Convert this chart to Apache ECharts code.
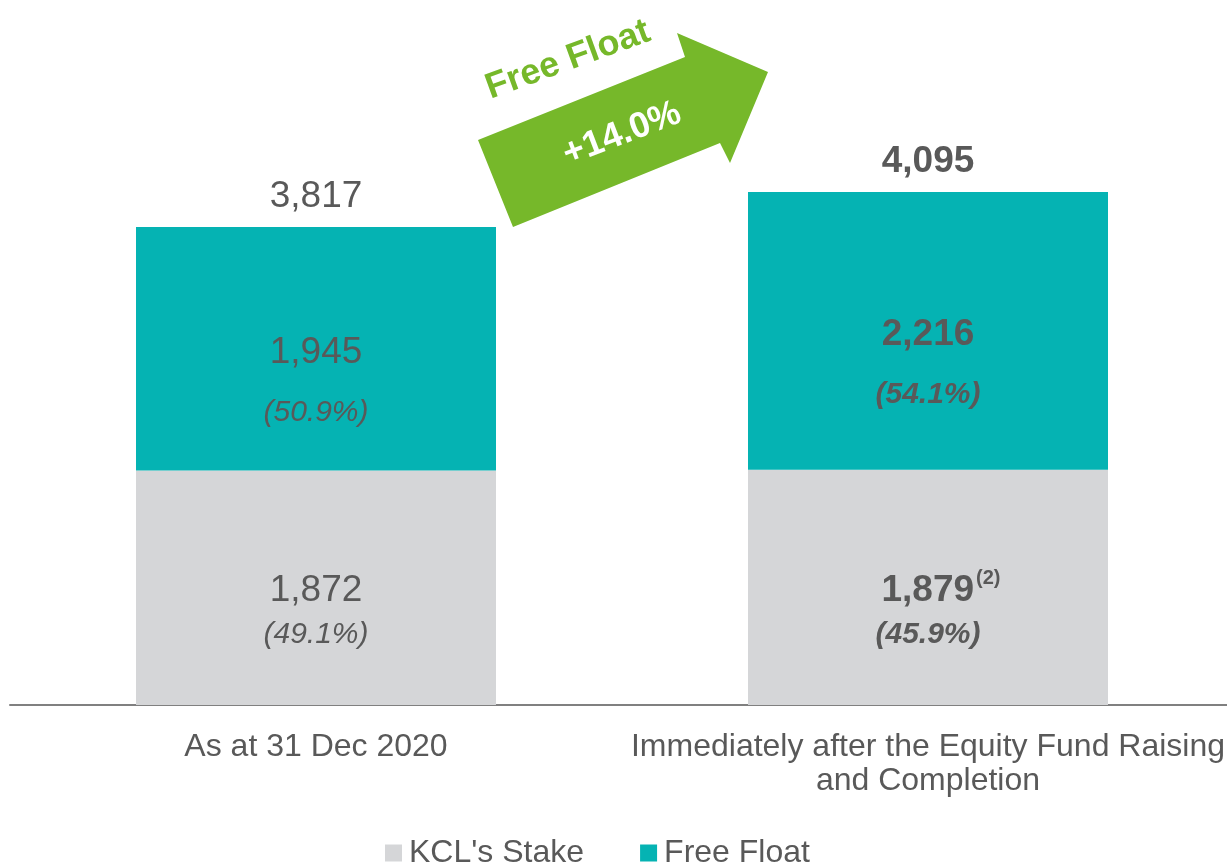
<!DOCTYPE html>
<html>
<head>
<meta charset="utf-8">
<script src="https://cdn.jsdelivr.net/npm/echarts@6/dist/echarts.min.js"></script>
<style>
  html, body { margin: 0; padding: 0; background: #ffffff; }
  #chart { width: 1227px; height: 866px; }
</style>
</head>
<body>
<div id="chart"></div>
<script>
// Share structure before and after the equity fund raising (millions of shares)
const categories = ['As at 31 Dec 2020', 'Immediately after the Equity Fund Raising\nand Completion'];
const kclStake = [1872, 1879];
const freeFloat = [1945, 2216];
const kclShare = ['49.1%', '45.9%'];
const freeShare = ['50.9%', '54.1%'];
const kclNotes = ['', '(2)'];
const totals = kclStake.map((v, i) => v + freeFloat[i]);
const arrowTitle = 'Free Float';
const arrowValue = '+14.0%';

const FONT = "'Liberation Sans', Arial, sans-serif";
const TEXT = '#595959';
const GREY = '#D5D6D8';
const TEAL = '#05B3B3';
const GREEN = '#76B82A';

const fmt = v => v.toLocaleString('en-US');

const richStyles = {
  v:  { fontSize: 37, color: TEXT, fontFamily: FONT, align: 'center' },
  vb: { fontSize: 37, color: TEXT, fontFamily: FONT, fontWeight: 'bold', align: 'center' },
  sup: { fontSize: 20, color: TEXT, fontFamily: FONT, fontWeight: 'bold', verticalAlign: 'top', padding: [0, 0, 20, 2] },
  // empty spacer balancing the footnote marker so the number itself stays centred
  gap: { width: 26, fontSize: 20 },
  p:  { fontSize: 30, color: TEXT, fontFamily: FONT, fontStyle: 'italic', align: 'center' },
  pb: { fontSize: 30, color: TEXT, fontFamily: FONT, fontStyle: 'italic', fontWeight: 'bold', align: 'center' }
};

function withLineHeight(lh) {
  const out = {};
  Object.keys(richStyles).forEach(k => {
    out[k] = Object.assign({}, richStyles[k]);
    if (k !== 'sup' && k !== 'gap') out[k].lineHeight = lh;
  });
  return out;
}

const chart = echarts.init(document.getElementById('chart'), null, { renderer: 'canvas' });

chart.setOption({
  animation: false,
  backgroundColor: '#ffffff',
  grid: { left: 10, right: -7, top: 141.4, bottom: 161, containLabel: false, outerBoundsMode: 'none' },
  xAxis: {
    type: 'category',
    data: categories,
    axisTick: { show: false },
    axisLine: { lineStyle: { color: '#808080', width: 2 } },
    axisLabel: {
      fontSize: 32, color: TEXT, fontFamily: FONT, lineHeight: 34, margin: 25, interval: 0
    }
  },
  yAxis: { type: 'value', min: 0, max: 4500, show: false, splitLine: { show: false } },
  legend: {
    data: ["KCL's Stake", 'Free Float'],
    left: 385, top: 837, padding: 0,
    icon: 'rect', itemWidth: 17, itemHeight: 17, itemGap: 56,
    textStyle: { fontSize: 32, color: TEXT, fontFamily: FONT, padding: [0, 0, 0, 2] }
  },
  series: [
    {
      name: "KCL's Stake",
      type: 'bar',
      stack: 'shares',
      data: kclStake,
      barWidth: 360,
      itemStyle: { color: GREY },
      label: {
        show: true,
        position: 'inside',
        offset: [0, 25],
        formatter: p => {
          const b = p.dataIndex === 1;
          const n = kclNotes[p.dataIndex];
          const pre = n ? '{gap|}' : '';
          const note = n ? '{sup|' + n + '}' : '';
          return pre + '{' + (b ? 'vb' : 'v') + '|' + fmt(p.value) + '}' + note +
                 '\n{' + (b ? 'pb' : 'p') + '|(' + kclShare[p.dataIndex] + ')}';
        },
        rich: withLineHeight(44)
      }
    },
    {
      name: 'Free Float',
      type: 'bar',
      stack: 'shares',
      data: freeFloat,
      barWidth: 360,
      itemStyle: { color: TEAL },
      label: {
        show: true,
        position: 'inside',
        offset: [0, 34],
        formatter: p => {
          const b = p.dataIndex === 1;
          return '{' + (b ? 'vb' : 'v') + '|' + fmt(p.value) + '}' +
                 '\n{' + (b ? 'pb' : 'p') + '|(' + freeShare[p.dataIndex] + ')}';
        },
        rich: withLineHeight(60)
      }
    },
    {
      name: 'Total',
      type: 'scatter',
      data: totals,
      symbolSize: 0,
      itemStyle: { color: '#ffffff', opacity: 1 },
      label: {
        show: true,
        position: 'top',
        distance: 12,
        formatter: p => '{' + (p.dataIndex === 1 ? 'vb' : 'v') + '|' + fmt(p.value) + '}',
        rich: richStyles
      },
      z: 5
    }
  ],
  graphic: [
    {
      type: 'polygon',
      shape: {
        points: [[478, 140], [685, 57], [677, 33], [768, 72], [730, 163], [720, 143], [513, 227]]
      },
      style: { fill: GREEN }
    },
    {
      type: 'text',
      x: 568, y: 60,
      rotation: 20 * Math.PI / 180,
      style: {
        text: arrowTitle, fill: GREEN, fontSize: 36, fontWeight: 'bold', fontFamily: FONT,
        align: 'center', verticalAlign: 'middle'
      }
    },
    {
      type: 'text',
      x: 622, y: 134,
      rotation: 21 * Math.PI / 180,
      style: {
        text: arrowValue, fill: '#ffffff', fontSize: 36, fontWeight: 'bold', fontFamily: FONT,
        align: 'center', verticalAlign: 'middle'
      }
    }
  ]
});
</script>
</body>
</html>
